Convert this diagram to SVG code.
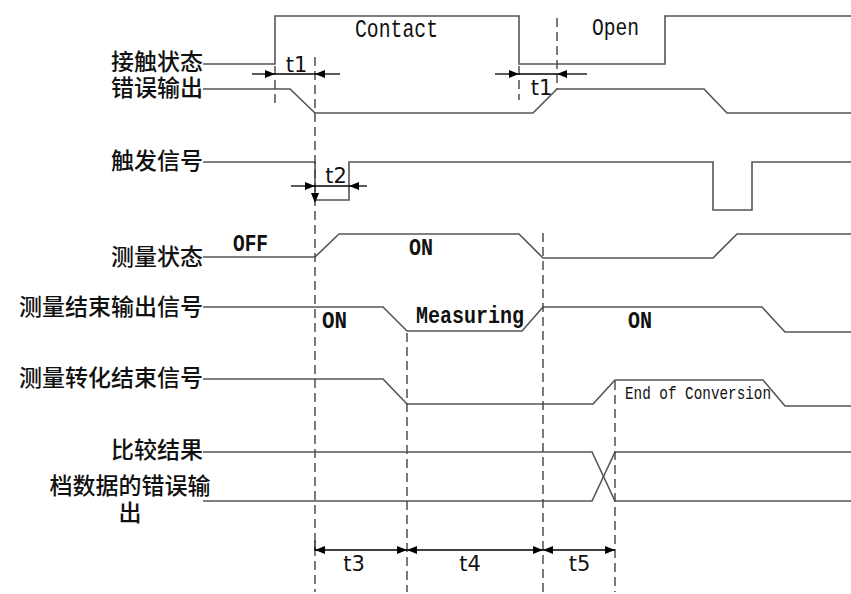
<svg xmlns="http://www.w3.org/2000/svg" width="851" height="594" viewBox="0 0 851 594">
<defs>
<marker id="ah" viewBox="0 0 10 8" refX="10" refY="4" markerWidth="10" markerHeight="8" markerUnits="userSpaceOnUse" orient="auto-start-reverse">
<path d="M0,0 L10,4 L0,8 Z" fill="#000"/>
</marker>
</defs>
<style>
.sig{fill:none;stroke:#555;stroke-width:1.6}
.dash{fill:none;stroke:#444;stroke-width:1.4;stroke-dasharray:9 5}
.dim{fill:none;stroke:#000;stroke-width:1.3}
.lbl{font-family:"Noto Sans CJK SC","Noto Sans",sans-serif;font-size:23px;font-weight:500;fill:#111;text-anchor:end}
.mono{font-family:"Liberation Mono","DejaVu Sans Mono",monospace;fill:#111}
.b{font-weight:bold}
.t{font-family:"DejaVu Sans","Liberation Sans",sans-serif;font-size:21px;fill:#111;text-anchor:middle}
</style>
<rect width="851" height="594" fill="#fff"/>

<g id="labels">
<text class="lbl" x="203" y="70">接触状态</text>
<text class="lbl" x="203" y="96">错误输出</text>
<text class="lbl" x="203" y="169">触发信号</text>
<text class="lbl" x="203" y="265">测量状态</text>
<text class="lbl" x="203" y="315">测量结束输出信号</text>
<text class="lbl" x="203" y="386">测量转化结束信号</text>
<text class="lbl" x="203" y="458">比较结果</text>
<text class="lbl" x="130" y="494" style="text-anchor:middle">档数据的错误输</text>
<text class="lbl" x="130" y="521" style="text-anchor:middle">出</text>
</g>

<g id="signals">
<path id="contact" class="sig" d="M203,64 H275 V16 H519 V64 H665 V16 H851"/>
<path id="error-out" class="sig" d="M203,89 H290 L315,113 H533 L557,89 H704 L727,113 H851"/>
<path id="trigger" class="sig" d="M203,162 H315 V200 H349 V162 H713 V210 H752 V162 H851"/>
<path id="meas-state" class="sig" d="M203,257 H315 L339,234 H519 L543,258 H713 L737,234 H851"/>
<path id="meas-end" class="sig" d="M203,307 H383 L407,331 H522 L543,307 H762 L785,332 H851"/>
<path id="conv-end" class="sig" d="M203,379 H383 L407,404 H593 L615,380 H763 L785,406 H851"/>
<path id="compare" class="sig" d="M203,452 H592 L615,501 H851"/>
<path id="range-err" class="sig" d="M203,501 H592 L615,452 H851"/>
</g>

<g id="connectors">
<line class="dash" x1="275" y1="66" x2="275" y2="104"/>
<line class="dash" x1="315" y1="57" x2="315" y2="592"/>
<line class="dash" x1="407" y1="333" x2="407" y2="592"/>
<line class="dash" x1="519" y1="66" x2="519" y2="100"/>
<line class="dash" x1="543" y1="233" x2="543" y2="592"/>
<line class="dash" x1="557" y1="18" x2="557" y2="89"/>
<line class="dash" x1="615" y1="381" x2="615" y2="592"/>

<line class="dim" x1="252" y1="74" x2="275" y2="74" marker-end="url(#ah)"/>
<line class="dim" x1="275" y1="74" x2="315" y2="74"/>
<line class="dim" x1="340" y1="74" x2="315" y2="74" marker-end="url(#ah)"/>
<line class="dim" x1="495" y1="74" x2="519" y2="74" marker-end="url(#ah)"/>
<line class="dim" x1="519" y1="74" x2="557" y2="74"/>
<line class="dim" x1="587" y1="74" x2="557" y2="74" marker-end="url(#ah)"/>
<line class="dim" x1="291" y1="186" x2="315" y2="186" marker-end="url(#ah)"/>
<line class="dim" x1="315" y1="186" x2="349" y2="186"/>
<line class="dim" x1="367" y1="186" x2="349" y2="186" marker-end="url(#ah)"/>
<path d="M311,193 L319,193 L315,203 Z" fill="#000"/>

<line class="dim" x1="315" y1="550" x2="407" y2="550" marker-start="url(#ah)" marker-end="url(#ah)"/>
<line class="dim" x1="407" y1="550" x2="543" y2="550" marker-start="url(#ah)" marker-end="url(#ah)"/>
<line class="dim" x1="543" y1="550" x2="615" y2="550" marker-start="url(#ah)" marker-end="url(#ah)"/>
<line class="dim" x1="315" y1="541" x2="315" y2="551"/>
</g>

<g id="texts">
<text class="mono" x="355" y="37" font-size="25" textLength="83" lengthAdjust="spacingAndGlyphs">Contact</text>
<text class="mono" x="592" y="35" font-size="23" textLength="47" lengthAdjust="spacingAndGlyphs">Open</text>
<text class="mono b" x="233" y="251" font-size="23" textLength="35" lengthAdjust="spacingAndGlyphs">OFF</text>
<text class="mono b" x="409" y="255" font-size="24" textLength="24" lengthAdjust="spacingAndGlyphs">ON</text>
<text class="mono b" x="322" y="328" font-size="24" textLength="25" lengthAdjust="spacingAndGlyphs">ON</text>
<text class="mono b" x="628" y="328" font-size="24" textLength="24" lengthAdjust="spacingAndGlyphs">ON</text>
<text class="mono b" x="416" y="323" font-size="24" textLength="108" lengthAdjust="spacingAndGlyphs">Measuring</text>
<text class="mono" x="625" y="399" font-size="18" textLength="146" lengthAdjust="spacingAndGlyphs">End of Conversion</text>
<text class="t" x="296.5" y="72">t1</text>
<text class="t" x="541.5" y="95">t1</text>
<text class="t" x="336" y="183">t2</text>
<text class="t" x="354" y="571">t3</text>
<text class="t" x="470" y="571">t4</text>
<text class="t" x="579.5" y="571">t5</text>
</g>
</svg>
